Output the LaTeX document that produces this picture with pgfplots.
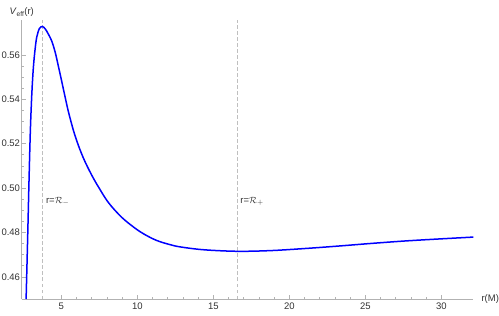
\documentclass[border=0pt]{standalone}
\usepackage{fontspec}
\setmainfont{Liberation Sans}
\usepackage{pgfplots}
\pgfplotsset{compat=1.18}
\begin{document}
\begin{tikzpicture}
\begin{axis}[
  scale only axis, width=451.6pt, height=278.5pt,
  xmin=2.39, xmax=32.1, ymin=0.45, ymax=0.5755,
  axis lines=left, axis line style={gray!60, -, line width=0.6pt},
  xtick={5,10,15,20,25,30}, ytick={0.46,0.48,0.50,0.52,0.54,0.56},
  minor x tick num=4, minor y tick num=3,
  tick style={gray!60, line width=0.6pt}, major tick length=4pt, minor tick length=2.5pt,
  tick align=inside,
  ticklabel style={font=\fontsize{9.5}{11}\selectfont, text=black!80},
  yticklabel style={inner sep=1.5pt, /pgf/number format/.cd, fixed, fixed zerofill, precision=2},
  /pgf/number format/assume math mode=true,
  clip=false,
]
\addplot[gray!50, line width=0.5pt, dash pattern=on 3.5pt off 2.5pt] coordinates {(3.75,0.45) (3.75,0.5755)};
\addplot[gray!50, line width=0.5pt, dash pattern=on 3.5pt off 2.5pt] coordinates {(16.54,0.45) (16.54,0.5755)};
\addplot[blue, line width=1.5pt, smooth, tension=0.55] coordinates {
(2.68,0.450) (2.78,0.477) (2.87,0.503) (2.96,0.526) (3.06,0.543) (3.16,0.5545)
(3.27,0.5625) (3.38,0.5680) (3.55,0.5718) (3.75,0.5728) (3.95,0.5716) (4.14,0.5694)
(4.37,0.5662) (4.60,0.5610) (4.80,0.5550) (5.00,0.5488) (5.24,0.5412) (5.46,0.5345)
(5.80,0.5258) (6.12,0.5192) (6.45,0.5135) (6.78,0.5087) (7.10,0.5045) (7.43,0.5006)
(8.09,0.4935) (8.97,0.4868) (9.85,0.4819) (10.40,0.4794) (11.00,0.4772) (11.50,0.4758)
(12.15,0.4745) (12.80,0.4735) (14.34,0.4722) (16.54,0.4715)
(18.73,0.4718) (20.92,0.4727) (23.12,0.4738) (25.31,0.4750) (27.50,0.4761)
(29.70,0.4770) (32.1,0.4779)
};
\node[anchor=west, font=\fontsize{9.5}{11}\selectfont, text=black!80, inner sep=0pt, xshift=3.5pt] at (axis cs:3.75,0.4939) {r=$\mathcal{R}_-$};
\node[anchor=west, font=\fontsize{9.5}{11}\selectfont, text=black!80, inner sep=0pt, xshift=3.5pt] at (axis cs:16.54,0.4939) {r=$\mathcal{R}_+$};
\node[anchor=west, font=\fontsize{9.5}{11}\selectfont, text=black!80, inner sep=0pt, xshift=8pt] at (rel axis cs:1,0) {r(M)};
\node[anchor=south, font=\fontsize{9.5}{11}\selectfont, text=black!80, inner sep=0pt, yshift=4pt] at (rel axis cs:0,1) {\textit{V}\textsubscript{eff}(r)};
\end{axis}
\path (current axis.south west) +(-21.7pt,-16pt) (current axis.north east) +(25.7pt,20.5pt);
\end{tikzpicture}
\end{document}
